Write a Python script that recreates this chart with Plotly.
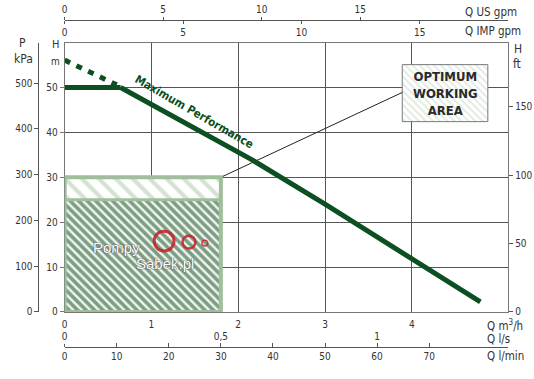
import plotly.graph_objects as go

# ---------------- data ----------------
# Maximum performance curve (Q in m3/h, H in m)
q_flat = [0.0, 0.645]
h_flat = [50.0, 50.0]
q_max = [0.645, 1.4, 2.15, 3.0, 4.0, 4.79]
h_max = [50.0, 42.1, 34.0, 24.0, 12.0, 2.25]
q_dash = [0.0, 0.6]
h_dash = [56.1, 50.6]

# Optimum working area (Q m3/h, H m)
area_q = [0.0, 1.8]
area_h_low = [0.0, 25.0]
area_h_top = [25.0, 30.0]

# Tick values per axis
ticks_m3h = [0, 1, 2, 3, 4]
ticks_ls = [0, 0.5, 1]
ticklabels_ls = ["0", "0,5", "1"]
ticks_lmin = [0, 10, 20, 30, 40, 50, 60, 70]
ticks_usgpm = [0, 5, 10, 15]
ticks_impgpm = [0, 5, 10, 15]
ticks_hm = [0, 10, 20, 30, 40, 50]
ticks_kpa = [0, 100, 200, 300, 400, 500]
ticks_ft = [0, 50, 100, 150]

# ranges
QMAX = 5.11
HMAX = 60.0

FONT = "Liberation Sans Narrow, Arial Narrow, DejaVu Sans Condensed, sans-serif"
TXT = "#333333"
GREEN = "#0c4f20"
LIGHTG = "#9fbf9b"
GRID = "#555555"

W, H = 534, 379
px = lambda x: x / W
py = lambda y: (H - y) / H

XD = [px(62), px(508)]
YD = [py(317), py(43.3)]

fig = go.Figure()

# working area bands
fig.add_trace(go.Scatter(
    x=[area_q[0], area_q[1], area_q[1], area_q[0], area_q[0]],
    y=[area_h_low[0], area_h_low[0], area_h_low[1], area_h_low[1], area_h_low[0]],
    mode="none", fill="toself", fillcolor="white",
    fillpattern=dict(shape="\\", fgcolor="#08441a", bgcolor="#f2f7f0",
                     size=6, solidity=0.6),
    hoverinfo="skip", showlegend=False))
fig.add_trace(go.Scatter(
    x=[area_q[0], area_q[1], area_q[1], area_q[0], area_q[0]],
    y=[area_h_top[0], area_h_top[0], area_h_top[1], area_h_top[1], area_h_top[0]],
    mode="none", fill="toself", fillcolor="white",
    fillpattern=dict(shape="\\", fgcolor="#a9c6a5", bgcolor="white",
                     size=12, solidity=0.35),
    hoverinfo="skip", showlegend=False))

# optimum box (hatched legend box)
bx = [3.89, 4.876]
by = [42.4, 55.1]
fig.add_trace(go.Scatter(
    x=[bx[0], bx[1], bx[1], bx[0], bx[0]],
    y=[by[0], by[0], by[1], by[1], by[0]],
    mode="lines", line=dict(color="#7a7a7a", width=1), fill="toself", fillcolor="white",
    fillpattern=dict(shape="\\", fgcolor="#c6d8c6", bgcolor="white", size=5, solidity=0.4),
    hoverinfo="skip", showlegend=False))

# connector line
fig.add_trace(go.Scatter(x=[area_q[1], bx[0]], y=[area_h_top[1], 48.9], mode="lines",
                         line=dict(color="#222", width=1), hoverinfo="skip", showlegend=False))

# curves
fig.add_trace(go.Scatter(x=q_dash, y=h_dash, mode="lines",
                         line=dict(color=GREEN, width=5, dash="6px,7px"),
                         hoverinfo="skip", showlegend=False))
fig.add_trace(go.Scatter(x=q_flat, y=h_flat, mode="lines",
                         line=dict(color=GREEN, width=5), hoverinfo="skip", showlegend=False))
fig.add_trace(go.Scatter(x=q_max, y=h_max, mode="lines",
                         line=dict(color=GREEN, width=5), hoverinfo="skip", showlegend=False))

# ghost traces for secondary axes
fig.add_trace(go.Scatter(x=[None], y=[None], xaxis="x2", yaxis="y", showlegend=False))
fig.add_trace(go.Scatter(x=[None], y=[None], xaxis="x3", yaxis="y", showlegend=False))
fig.add_trace(go.Scatter(x=[None], y=[None], xaxis="x4", yaxis="y", showlegend=False))
fig.add_trace(go.Scatter(x=[None], y=[None], xaxis="x5", yaxis="y", showlegend=False))
fig.add_trace(go.Scatter(x=[None], y=[None], xaxis="x", yaxis="y2", showlegend=False))
fig.add_trace(go.Scatter(x=[None], y=[None], xaxis="x", yaxis="y3", showlegend=False))

# border shapes of working area
fig.add_shape(type="rect", x0=area_q[0], x1=area_q[1], y0=area_h_low[0], y1=area_h_top[1],
              line=dict(color=LIGHTG, width=4), xref="x", yref="y")
fig.add_shape(type="line", x0=area_q[0], x1=area_q[1], y0=area_h_low[1], y1=area_h_low[1],
              line=dict(color=LIGHTG, width=3), xref="x", yref="y")

tf = dict(family=FONT, size=10, color=TXT)
base_pos = py(352.3)
top_pos = py(20)

fig.update_layout(
    width=W, height=H, margin=dict(l=0, r=0, t=0, b=0), autosize=False,
    paper_bgcolor="white", plot_bgcolor="white",
    font=dict(family=FONT, color=TXT),
    xaxis=dict(domain=XD, range=[0, QMAX], tickvals=ticks_m3h, ticks="",
               showgrid=True, gridcolor=GRID, gridwidth=1, zeroline=False,
               showline=True, linecolor="#777", linewidth=1, mirror=True,
               tickfont=tf, ticklabelstandoff=3),
    yaxis=dict(domain=YD, range=[0, HMAX], tickvals=ticks_hm, ticks="outside", ticklen=4,
               tickcolor="#777", showgrid=True, gridcolor=GRID, gridwidth=1, zeroline=False,
               showline=True, linecolor="#777", linewidth=1, mirror=True, tickfont=tf),
    # l/min axis (line with ticks)
    xaxis2=dict(overlaying="x", anchor="free", position=base_pos, side="bottom",
                domain=XD, range=[0, QMAX * 1000 / 60], tickvals=ticks_lmin,
                ticks="inside", ticklen=4, tickcolor="#555", showgrid=False, zeroline=False,
                showline=True, linecolor="#555", linewidth=1, tickfont=tf),
    # l/s axis (labels above same line)
    xaxis3=dict(overlaying="x", anchor="free", position=base_pos, side="top",
                domain=XD, range=[0, QMAX / 3.6], tickvals=ticks_ls, ticktext=ticklabels_ls,
                ticks="outside", ticklen=3, tickcolor="#555", showgrid=False, zeroline=False,
                showline=False, tickfont=tf),
    # US gpm axis
    xaxis4=dict(overlaying="x", anchor="free", position=top_pos, side="top",
                domain=XD, range=[0, QMAX * 4.40287], tickvals=ticks_usgpm,
                ticks="outside", ticklen=3, tickcolor="#555", showgrid=False, zeroline=False,
                showline=True, linecolor="#555", linewidth=1, tickfont=tf),
    # IMP gpm axis
    xaxis5=dict(overlaying="x", anchor="free", position=top_pos, side="bottom",
                domain=XD, range=[0, QMAX * 3.66615], tickvals=ticks_impgpm,
                ticks="outside", ticklen=3, tickcolor="#555", showgrid=False, zeroline=False,
                showline=False, tickfont=tf),
    # kPa axis
    yaxis2=dict(overlaying="y", anchor="free", position=px(35.7), side="left",
                domain=YD, range=[0, HMAX * 9.80665], tickvals=ticks_kpa,
                ticks="outside", ticklen=4, tickcolor="#555", showgrid=False, zeroline=False,
                showline=True, linecolor="#555", linewidth=1, tickfont=tf),
    # ft axis
    yaxis3=dict(overlaying="y", anchor="x", side="right",
                domain=YD, range=[0, HMAX * 3.28084], tickvals=ticks_ft,
                ticks="outside", ticklen=4, tickcolor="#555", showgrid=False, zeroline=False,
                showline=False, tickfont=tf),
)

def lab(text, x, y, xanchor="center", size=11, **kw):
    fig.add_annotation(text=text, x=px(x), y=py(y), xref="paper", yref="paper",
                       xanchor=xanchor, yanchor="middle", showarrow=False,
                       font=dict(family=FONT, size=size, color=kw.get("color", TXT)))

lab("P", 20, 43.5, size=12)
lab("kPa", 21, 59.5, size=12)
lab("H", 52.5, 45.5, size=11)
lab("m", 52.5, 62, size=10)
lab("H", 517.5, 50, size=12)
lab("ft", 517, 65.5, size=12)
lab("Q US gpm", 463, 12.5, xanchor="left", size=11.5)
lab("Q IMP gpm", 463, 31, xanchor="left", size=11.5)
lab("Q m<sup>3</sup>/h", 485, 330.5, xanchor="left", size=11.5)
lab("Q l/s", 485, 344, xanchor="left", size=11.5)
lab("Q l/min", 485, 361.5, xanchor="left", size=11.5)

# curve label
fig.add_annotation(text="<b>Maximum Performance</b>", x=1.5, y=44.6, xref="x", yref="y",
                   showarrow=False, textangle=30,
                   font=dict(family=FONT, size=11.5, color=GREEN))

# optimum working area box text
fig.add_annotation(text="<b>OPTIMUM<br>WORKING<br>AREA</b>", x=(bx[0] + bx[1]) / 2,
                   y=(by[0] + by[1]) / 2, xref="x", yref="y", showarrow=False,
                   font=dict(family=FONT, size=13, color="#2a2a2a"), align="center")

# watermark
for t, x, y in [("Pompy", 88, 251), ("Sabek.pl", 132, 268)]:
    fig.add_annotation(text=t, x=px(x), y=py(y), xref="paper", yref="paper", showarrow=False,
                       xanchor="left", yanchor="middle",
                       font=dict(family="Liberation Sans, Arial, sans-serif", size=15,
                                 color="white",
                                 shadow="0 0 1px #555, 0 0 1px #555, 0 0 1px #555"))
for cx, cy, r, w in [(162, 245, 10, 3), (187, 246, 6.5, 2.5), (203, 247, 3, 1.5)]:
    fig.add_shape(type="circle", xref="paper", yref="paper",
                  x0=px(cx - r), x1=px(cx + r), y0=py(cy + r), y1=py(cy - r),
                  line=dict(color="rgba(200,30,38,0.85)", width=w))

fig.write_html("out.html", config={"displayModeBar": False},
               post_script="document.body.style.margin='0';document.body.style.overflow='hidden';")
